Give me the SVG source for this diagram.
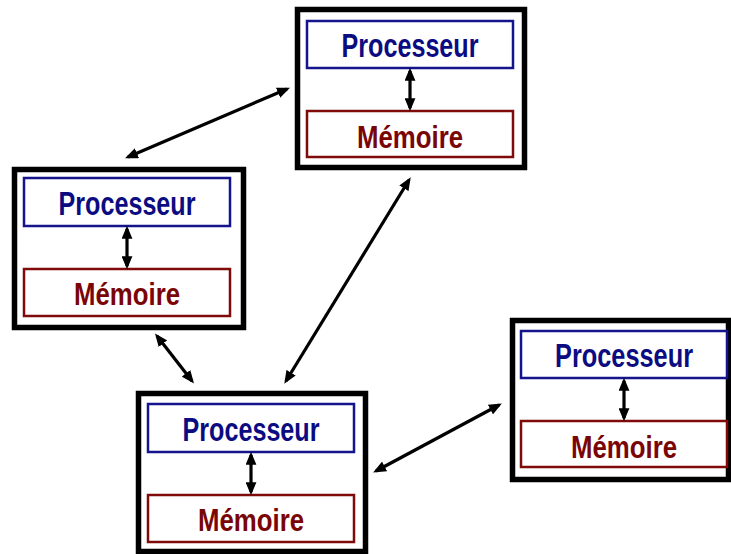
<svg xmlns="http://www.w3.org/2000/svg" width="731" height="554" viewBox="0 0 731 554">
  <style>
    .outer { fill: #ffffff; stroke: #000000; stroke-width: 5.5; }
    .proc { fill: #ffffff; stroke: #14148c; stroke-width: 2.5; }
    .mem { fill: #ffffff; stroke: #7f0a0a; stroke-width: 2.5; }
    .ptext { font-family: "Liberation Sans", Arial, sans-serif; font-size: 33px; font-weight: bold; fill: #0c0c82; text-anchor: middle; }
    .mtext { font-family: "Liberation Sans", Arial, sans-serif; font-size: 32px; font-weight: bold; fill: #7a0505; text-anchor: middle; }
    .link { stroke: #000000; stroke-width: 3.2; fill: none; marker-start: url(#head); marker-end: url(#head); }
  </style>
  <defs>
    <marker id="head" viewBox="0 0 12 10" refX="9" refY="5" markerWidth="13" markerHeight="11" markerUnits="userSpaceOnUse" orient="auto-start-reverse">
      <path d="M0,0 L12,5 L0,10 z" fill="#000000"/>
    </marker>
  </defs>
  <rect width="731" height="554" fill="#ffffff"/>

  <!-- top machine -->
  <g id="node-top">
    <rect class="outer" x="297.5" y="9.5" width="227" height="158"/>
    <rect class="proc" x="307" y="21" width="206" height="47"/>
    <text class="ptext" x="410" y="57" textLength="137" lengthAdjust="spacingAndGlyphs">Processeur</text>
    <rect class="mem" x="307" y="111" width="206" height="46"/>
    <text class="mtext" x="410" y="148" textLength="106" lengthAdjust="spacingAndGlyphs">Mémoire</text>
    <line class="link" x1="410" y1="71" x2="410" y2="108"/>
  </g>

  <!-- left machine -->
  <g id="node-left">
    <rect class="outer" x="14.5" y="169.5" width="229" height="158"/>
    <rect class="proc" x="24" y="178" width="206" height="48"/>
    <text class="ptext" x="127" y="215" textLength="137" lengthAdjust="spacingAndGlyphs">Processeur</text>
    <rect class="mem" x="24" y="269" width="206" height="47"/>
    <text class="mtext" x="127" y="305" textLength="106" lengthAdjust="spacingAndGlyphs">Mémoire</text>
    <line class="link" x1="127" y1="229" x2="127" y2="266"/>
  </g>

  <!-- bottom machine -->
  <g id="node-bottom">
    <rect class="outer" x="138.5" y="393.5" width="227" height="158"/>
    <rect class="proc" x="148" y="404" width="206" height="48"/>
    <text class="ptext" x="251" y="441" textLength="137" lengthAdjust="spacingAndGlyphs">Processeur</text>
    <rect class="mem" x="148" y="495" width="206" height="47"/>
    <text class="mtext" x="251" y="531" textLength="106" lengthAdjust="spacingAndGlyphs">Mémoire</text>
    <line class="link" x1="251" y1="455" x2="251" y2="492"/>
  </g>

  <!-- right machine -->
  <g id="node-right">
    <rect class="outer" x="512.5" y="320.5" width="216" height="159"/>
    <rect class="proc" x="521" y="331" width="206" height="47"/>
    <text class="ptext" x="624" y="367" textLength="138" lengthAdjust="spacingAndGlyphs">Processeur</text>
    <rect class="mem" x="521" y="421" width="206" height="46"/>
    <text class="mtext" x="624" y="458" textLength="106" lengthAdjust="spacingAndGlyphs">Mémoire</text>
    <line class="link" x1="624" y1="381" x2="624" y2="418"/>
  </g>

  <!-- network links between machines -->
  <g id="connectors">
    <line class="link" x1="128" y1="157" x2="287" y2="89"/>
    <line class="link" x1="409" y1="180" x2="286" y2="381"/>
    <line class="link" x1="157" y1="336" x2="192" y2="381"/>
    <line class="link" x1="376" y1="471" x2="499" y2="405"/>
  </g>
</svg>
